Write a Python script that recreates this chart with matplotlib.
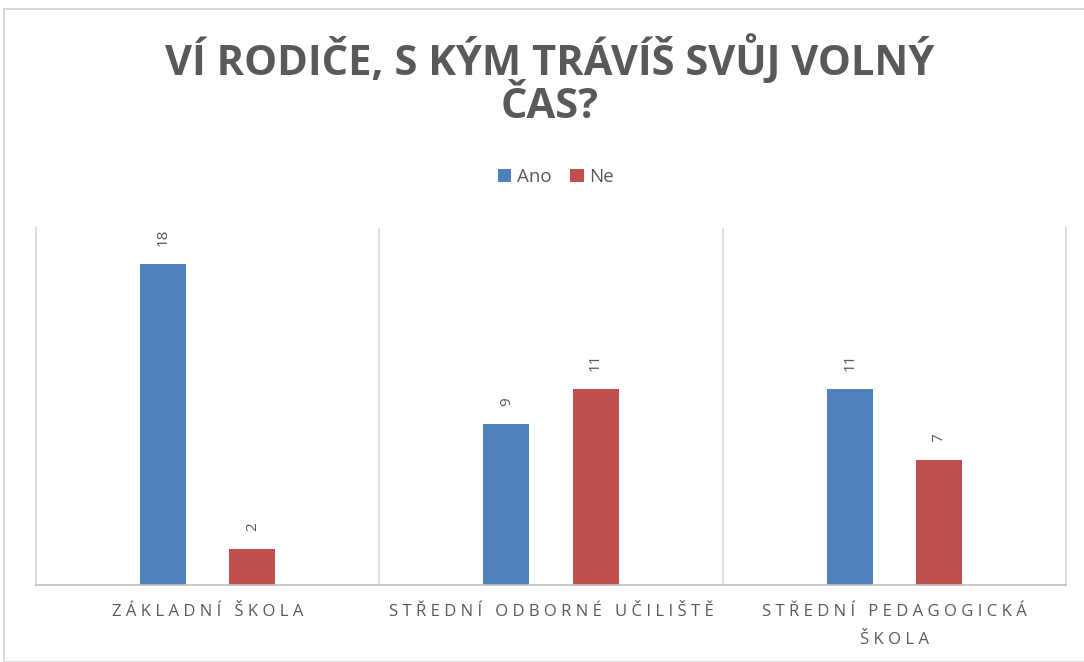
import matplotlib
matplotlib.use("Agg")
import matplotlib.pyplot as plt
import numpy as np
from matplotlib.patches import Rectangle

# data
categories = ["ZÁKLADNÍ ŠKOLA", "STŘEDNÍ ODBORNÉ UČILIŠTĚ", "STŘEDNÍ PEDAGOGICKÁ\nŠKOLA"]
series_names = ["Ano", "Ne"]
ano = [18, 9, 11]
ne = [2, 11, 7]
title_lines = ["VÍ RODIČE, S KÝM TRÁVÍŠ SVŮJ VOLNÝ", "ČAS?"]

colors = ["#4F81BD", "#C0504D"]
text_gray = "#595959"
font = ["Open Sans", "DejaVu Sans"]


def spaced(s, sep="\u200a"):
    # fake letter spacing, line by line
    return "\n".join(sep.join(line) for line in s.split("\n"))


W, H = 1084, 662
fig = plt.figure(figsize=(W / 100, H / 100), dpi=100)

# chart area border (cropped screenshot)
fig.patches.append(Rectangle((4 / W, 0), 1.2, 1 - 9 / H, transform=fig.transFigure,
                             fill=False, edgecolor="#d9d9d9", linewidth=1.5))

ax = fig.add_axes([36 / W, 1 - 585 / H, (1066 - 36) / W, (585 - 228) / H])

x = np.arange(len(categories))
bw = 0.134
off = 0.13
b1 = ax.bar(x - off, ano, bw, color=colors[0], label=series_names[0])
b2 = ax.bar(x + off, ne, bw, color=colors[1], label=series_names[1])

for bars in (b1, b2):
    for r in bars:
        ax.annotate(str(int(r.get_height())), (r.get_x() + r.get_width() / 2, r.get_height()),
                    xytext=(0, 13), textcoords="offset points", rotation=90,
                    ha="center", va="bottom", fontsize=11, color=text_gray, family=font)

ax.set_xlim(-0.5, 2.5)
ax.set_ylim(0, 20)
ax.set_yticks([])
ax.set_xticks(x)
ax.set_xticklabels([spaced(c, "\u2009\u200a") for c in categories], fontsize=12, color=text_gray,
                   family=font, linespacing=1.95)
ax.tick_params(axis="x", length=0, pad=14)

# category separators
for xs in (0.5, 1.5):
    ax.axvline(xs, color="#d9d9d9", linewidth=1.2)
ax.spines["top"].set_visible(False)
for s in ("left", "right"):
    ax.spines[s].set_color("#d9d9d9")
    ax.spines[s].set_linewidth(1.2)
ax.spines["bottom"].set_color("#bfbfbf")
ax.spines["bottom"].set_linewidth(1.2)

fig.text(0.507, 1 - 60 / H, title_lines[0], ha="center", va="center",
         fontsize=30, fontweight="bold", color=text_gray, family=font)
fig.text(0.507, 1 - 108 / H, title_lines[1], ha="center", va="center",
         fontsize=30, fontweight="bold", color=text_gray, family=font)

fig.legend(loc="center", bbox_to_anchor=(0.513, 1 - 177 / H), ncol=2, frameon=False,
           handlelength=0.7, handleheight=0.7, handletextpad=0.3, columnspacing=1.0,
           prop={"family": font, "size": 13.5}, labelcolor=text_gray)

fig.savefig("out.png", dpi=100)
